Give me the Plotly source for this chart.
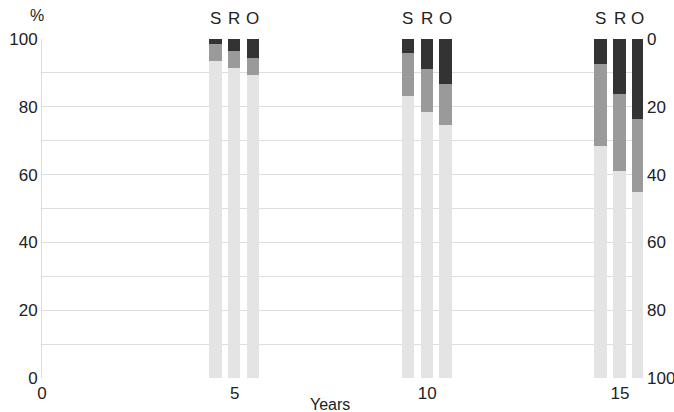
import plotly.graph_objects as go

years = [5, 10, 15]
groups = ["S", "R", "O"]
# bottom (light) segment: % still at risk / event-free
light_vals = {"S": [93.5, 83.2, 68.4], "R": [91.5, 78.5, 61.0], "O": [89.4, 74.6, 54.8]}
mid_vals = {"S": [5.0, 12.6, 24.1], "R": [5.0, 12.7, 22.7], "O": [4.9, 12.1, 21.6]}
dark_vals = {"S": [1.5, 4.2, 7.5], "R": [3.5, 8.8, 16.3], "O": [5.7, 13.3, 23.6]}
x_ticks = [0, 5, 10, 15]
y_ticks = [0, 20, 40, 60, 80, 100]

offsets = {"S": -0.5, "R": -0.01, "O": 0.47}
colors = ["#e4e4e4", "#9a9a9a", "#333333"]
FONT = "Liberation Sans, Arial, sans-serif"
FS = 17

xs, l, m, d = [], [], [], []
for g in groups:
    for i, yr in enumerate(years):
        xs.append(yr + offsets[g])
        l.append(light_vals[g][i])
        m.append(mid_vals[g][i])
        d.append(dark_vals[g][i])

fig = go.Figure()
for vals, c in zip([l, m, d], colors):
    fig.add_trace(go.Bar(x=xs, y=vals, marker=dict(color=c, line=dict(width=0)),
                         width=0.32, showlegend=False))
# invisible trace for right axis
fig.add_trace(go.Scatter(x=[0], y=[0], yaxis="y2", mode="markers",
                         marker=dict(opacity=0), showlegend=False, hoverinfo="skip"))

annotations = []
for g in groups:
    for yr in years:
        annotations.append(dict(x=yr + offsets[g], y=1, xref="x", yref="paper",
                                text=g, showarrow=False, yanchor="middle",
                                yshift=21, font=dict(size=FS, color="#222", family=FONT)))
annotations.append(dict(x=-0.023, y=1, xref="paper", yref="paper", text="%",
                        showarrow=False, yanchor="middle", yshift=24,
                        font=dict(size=FS - 1, color="#222", family=FONT)))
annotations.append(dict(x=0.479, y=0, xref="paper", yref="paper", text="Years",
                        showarrow=False, yanchor="middle", yshift=-26,
                        font=dict(size=FS - 1, color="#222", family=FONT)))

fig.update_layout(
    width=674, height=412,
    margin=dict(l=42, r=31, t=39, b=34, autoexpand=False),
    paper_bgcolor="white", plot_bgcolor="white",
    barmode="stack", bargap=0,
    font=dict(family=FONT, size=FS, color="#222"),
    xaxis=dict(range=[0, 15.6], tickvals=x_ticks, showgrid=False, zeroline=False,
               showline=False, ticks="", tickfont=dict(size=FS), ticklabelstandoff=3,
               automargin=False),
    yaxis=dict(range=[0, 100], tickvals=y_ticks, showgrid=True, gridcolor="#dedede",
               gridwidth=1, zeroline=False, showline=True, linecolor="#dedede",
               ticks="", minor=dict(dtick=10, showgrid=True, gridcolor="#dedede"),
               tickfont=dict(size=FS), automargin=False),
    yaxis2=dict(range=[100, 0], overlaying="y", side="right", tickvals=y_ticks,
                showgrid=False, zeroline=False, showline=False, ticks="",
                tickfont=dict(size=FS), ticklabelstandoff=3, automargin=False),
    annotations=annotations,
)

fig.write_html("out.html")
